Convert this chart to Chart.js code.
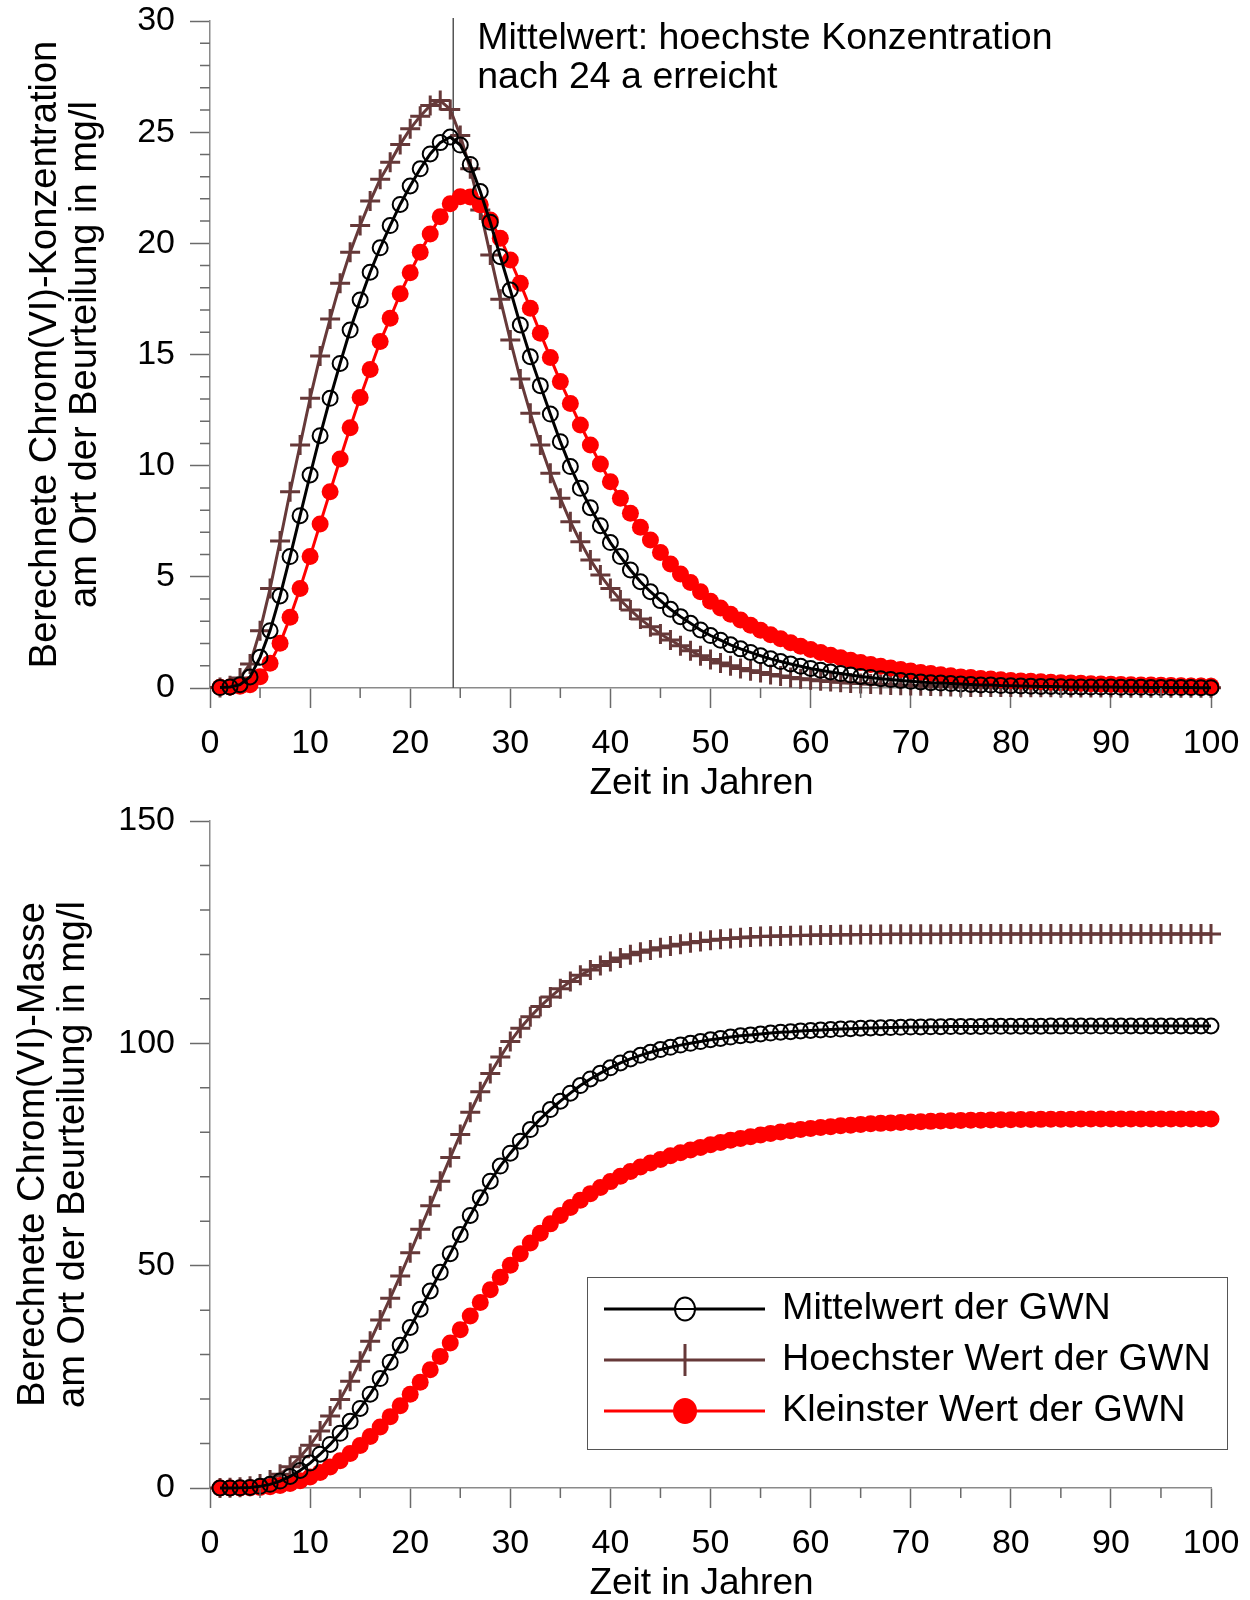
<!DOCTYPE html>
<html lang="de">
<head>
<meta charset="utf-8">
<title>Chrom(VI) Konzentration und Masse</title>
<script src="https://cdn.jsdelivr.net/npm/chart.js@4.4.1/dist/chart.umd.min.js"></script>
<style>
    body { margin: 0; background: #fff; }
    #rahmen { position: relative; width: 1250px; height: 1600px; }
    canvas { position: absolute; left: 0; }
</style>
</head>
<body>
<div id="rahmen">
    <canvas id="konzentration" width="1250" height="800" style="top:0"></canvas>
    <canvas id="masse" width="1250" height="800" style="top:800px"></canvas>
</div>
<script>
    const jahre = [1,2,3,4,5,6,7,8,9,10,11,12,13,14,15,16,17,18,19,20,
        21,22,23,24,25,26,27,28,29,30,31,32,33,34,35,36,37,38,39,40,
        41,42,43,44,45,46,47,48,49,50,51,52,53,54,55,56,57,58,59,60,
        61,62,63,64,65,66,67,68,69,70,71,72,73,74,75,76,77,78,79,80,
        81,82,83,84,85,86,87,88,89,90,91,92,93,94,95,96,97,98,99,100];

    const namen = ['Mittelwert der GWN', 'Hoechster Wert der GWN', 'Kleinster Wert der GWN'];

    // Konzentration in mg/l (oben)
    const konzMittel = [0.02,0.05,0.15,0.5,1.38,2.58,4.14,5.91,7.75,9.58,
        11.35,13.03,14.6,16.1,17.45,18.7,19.8,20.8,21.75,22.58,
        23.35,24.02,24.53,24.78,24.42,23.55,22.33,20.95,19.4,17.9,
        16.33,14.9,13.6,12.32,11.08,9.96,8.98,8.11,7.3,6.54,
        5.91,5.31,4.78,4.33,3.93,3.54,3.21,2.91,2.61,2.36,
        2.15,1.94,1.76,1.6,1.45,1.31,1.19,1.08,0.98,0.88,
        0.8,0.72,0.65,0.58,0.52,0.47,0.42,0.38,0.34,0.3,
        0.27,0.24,0.22,0.2,0.18,0.16,0.14,0.13,0.11,0.1,
        0.09,0.08,0.07,0.07,0.06,0.05,0.05,0.04,0.04,0.04,
        0.03,0.03,0.03,0.02,0.02,0.02,0.02,0.02,0.01,0.01];
    const konzHoechst = [0.02,0.1,0.45,1.08,2.58,4.47,6.61,8.83,10.93,13.03,
        14.93,16.6,18.2,19.6,20.8,21.9,22.88,23.65,24.45,25.15,
        25.72,26.2,26.42,26.02,24.85,23.35,21.5,19.48,17.49,15.65,
        13.9,12.36,10.93,9.66,8.53,7.48,6.58,5.76,5.08,4.48,
        3.96,3.51,3.1,2.76,2.43,2.16,1.9,1.68,1.45,1.28,
        1.13,1.0,0.88,0.78,0.7,0.61,0.54,0.47,0.42,0.37,
        0.33,0.29,0.26,0.23,0.2,0.18,0.16,0.14,0.12,0.11,
        0.1,0.09,0.08,0.07,0.06,0.05,0.05,0.04,0.04,0.04,
        0.03,0.03,0.03,0.03,0.02,0.02,0.02,0.02,0.02,0.02,
        0.01,0.01,0.01,0.01,0.01,0.01,0.01,0.01,0.01,0.01];
    const konzKleinst = [0.03,0.05,0.08,0.15,0.51,1.11,2.01,3.18,4.48,5.91,
        7.38,8.83,10.3,11.71,13.07,14.33,15.58,16.63,17.73,18.68,
        19.6,20.42,21.2,21.78,22.1,22.08,21.73,21.05,20.23,19.25,
        18.2,17.08,15.96,14.86,13.78,12.8,11.83,10.93,10.08,9.28,
        8.53,7.86,7.23,6.66,6.09,5.58,5.13,4.74,4.33,3.9,
        3.6,3.32,3.06,2.82,2.6,2.4,2.21,2.04,1.88,1.73,
        1.6,1.47,1.36,1.25,1.15,1.06,0.98,0.9,0.83,0.76,
        0.7,0.65,0.6,0.55,0.5,0.47,0.43,0.4,0.37,0.34,
        0.32,0.3,0.28,0.26,0.24,0.22,0.21,0.19,0.18,0.17,
        0.16,0.15,0.14,0.13,0.12,0.11,0.1,0.09,0.09,0.08];

    // Masse (unten)
    const masseMittel = [0,0.01,0.04,0.13,0.37,0.82,1.55,2.6,3.95,5.6,
        7.6,9.8,12.3,15.0,17.9,21.1,24.6,28.3,32.1,36.1,
        40.2,44.3,48.5,52.7,57.0,61.3,65.3,69.0,72.4,75.3,
        78.0,80.6,83.0,85.1,87.0,88.8,90.5,92.0,93.3,94.5,
        95.6,96.5,97.3,98.0,98.6,99.1,99.6,100.0,100.4,100.8,
        101.1,101.4,101.7,101.9,102.1,102.3,102.5,102.6,102.8,102.9,
        103.0,103.1,103.2,103.3,103.4,103.45,103.5,103.55,103.6,103.65,
        103.7,103.72,103.74,103.76,103.78,103.8,103.81,103.82,103.83,103.84,
        103.85,103.86,103.86,103.87,103.87,103.88,103.88,103.88,103.89,103.89,
        103.89,103.9,103.9,103.9,103.9,103.9,103.9,103.9,103.9,103.9];
    const masseHoechst = [0,0.03,0.15,0.4,0.9,1.8,3.1,4.8,7.0,9.6,
        12.8,16.2,19.9,24.0,28.5,33.0,37.8,42.7,47.7,52.9,
        58.2,63.5,69.0,74.3,79.5,84.5,89.1,93.2,96.9,100.4,
        103.4,106.0,108.3,110.4,112.3,113.9,115.3,116.5,117.5,118.4,
        119.2,119.9,120.5,121.0,121.5,121.9,122.3,122.6,122.9,123.2,
        123.4,123.6,123.75,123.9,124.0,124.1,124.15,124.2,124.25,124.3,
        124.35,124.38,124.41,124.44,124.46,124.48,124.5,124.51,124.52,124.53,
        124.54,124.55,124.55,124.56,124.56,124.57,124.57,124.57,124.58,124.58,
        124.58,124.58,124.59,124.59,124.59,124.59,124.59,124.59,124.6,124.6,
        124.6,124.6,124.6,124.6,124.6,124.6,124.6,124.6,124.6,124.6];
    const masseKleinst = [0,0.01,0.02,0.05,0.12,0.28,0.56,1.0,1.62,2.45,
        3.47,4.7,6.13,7.76,9.58,11.57,13.74,16.05,18.5,21.1,
        23.8,26.6,29.6,32.6,35.6,38.7,41.7,44.6,47.4,50.1,
        52.7,55.1,57.3,59.4,61.3,63.1,64.7,66.2,67.6,68.9,
        70.1,71.2,72.2,73.1,73.9,74.7,75.4,76.0,76.6,77.2,
        77.7,78.2,78.6,79.0,79.4,79.75,80.05,80.35,80.6,80.85,
        81.05,81.25,81.45,81.6,81.75,81.9,82.0,82.1,82.2,82.3,
        82.38,82.45,82.52,82.58,82.63,82.68,82.72,82.76,82.8,82.83,
        82.86,82.88,82.9,82.92,82.94,82.95,82.96,82.97,82.98,82.99,
        83.0,83.0,83.0,83.0,83.0,83.0,83.0,83.0,83.0,83.0];

    const spitzeJahr = 24.3;
    const hinweis = ['Mittelwert: hoechste Konzentration', 'nach 24 a erreicht'];
    const xTitel = 'Zeit in Jahren';

    const achsenFarbe = '#8a8a8a';
    const strichFarbe = '#6a6a6a';
    const braun = '#663939';
    const familie = "'Liberation Sans', Arial, Helvetica, sans-serif";
    const groesse = 38;
    const tickGroesse = 34;

    const stile = [
        { borderColor: '#000', pointStyle: 'circle', pointRadius: 7.5, pointBorderWidth: 2,
          pointBorderColor: '#000', pointBackgroundColor: 'rgba(0,0,0,0)', order: 0 },
        { borderColor: braun, pointStyle: 'cross', pointRadius: 10, pointBorderWidth: 3,
          pointBorderColor: braun, pointBackgroundColor: braun, order: 2 },
        { borderColor: '#ff0000', pointStyle: 'circle', pointRadius: 8.5, pointBorderWidth: 0,
          pointBorderColor: '#ff0000', pointBackgroundColor: '#ff0000', order: 1 }
    ];

    function datensatz(i, werte) {
        return Object.assign({
            label: namen[i],
            data: werte.map((w, k) => ({ x: jahre[k], y: w })),
            borderWidth: 3,
            tension: 0,
            clip: false
        }, stile[i]);
    }

    // kleine Striche zwischen den beschrifteten + Titel der x-Achse
    const kleineStriche = {
        id: 'kleineStriche',
        afterDraw(chart, args, opts) {
            const { ctx, chartArea, scales } = chart;
            ctx.save();
            ctx.strokeStyle = strichFarbe;
            ctx.lineWidth = 1.5;
            ctx.beginPath();
            for (let v = 5; v < 100; v += 10) {
                const px = scales.x.getPixelForValue(v);
                ctx.moveTo(px, chartArea.bottom);
                ctx.lineTo(px, chartArea.bottom + 10);
            }
            for (let v = opts.klein; v < scales.y.max; v += opts.klein) {
                if (v % opts.gross === 0) continue;
                const py = scales.y.getPixelForValue(v);
                ctx.moveTo(chartArea.left - 10, py);
                ctx.lineTo(chartArea.left, py);
            }
            ctx.stroke();

            ctx.fillStyle = '#000';
            ctx.font = '37px ' + familie;
            ctx.textAlign = 'center';
            ctx.textBaseline = 'middle';
            ctx.fillText(xTitel, (chartArea.left + chartArea.right) / 2 - 9, chartArea.bottom + 96);
            ctx.restore();
        }
    };

    const spitzenLinie = {
        id: 'spitzenLinie',
        beforeDatasetsDraw(chart) {
            const { ctx, chartArea, scales } = chart;
            const px = scales.x.getPixelForValue(spitzeJahr);
            ctx.save();
            ctx.strokeStyle = '#555';
            ctx.lineWidth = 1.5;
            ctx.beginPath();
            ctx.moveTo(px, chartArea.top - 3);
            ctx.lineTo(px, chartArea.bottom);
            ctx.stroke();
            ctx.fillStyle = '#000';
            ctx.font = '37.5px ' + familie;
            ctx.textAlign = 'left';
            ctx.textBaseline = 'middle';
            ctx.fillText(hinweis[0], px + 24, 39);
            ctx.fillText(hinweis[1], px + 24, 78);
            ctx.restore();
        }
    };

    const legende = {
        id: 'legende',
        afterDraw(chart) {
            const ctx = chart.ctx;
            const links = 587, oben = 477, breite = 640, hoehe = 172;
            ctx.save();
            ctx.fillStyle = '#fff';
            ctx.fillRect(links, oben, breite, hoehe);
            ctx.strokeStyle = '#555';
            ctx.lineWidth = 1;
            ctx.strokeRect(links + 0.5, oben + 0.5, breite, hoehe);
            const reihen = [0, 1, 2];
            reihen.forEach((i, n) => {
                const y = oben + 32 + n * 51;
                const s = stile[i];
                ctx.strokeStyle = s.borderColor;
                ctx.lineWidth = 3;
                ctx.beginPath();
                ctx.moveTo(604, y);
                ctx.lineTo(765, y);
                ctx.stroke();
                const mx = 685;
                if (i === 0) {
                    ctx.fillStyle = '#fff';
                    ctx.lineWidth = 2;
                    ctx.beginPath();
                    ctx.ellipse(mx, y, 10, 11.5, 0, 0, Math.PI * 2);
                    ctx.fill();
                    ctx.stroke();
                    ctx.beginPath();
                    ctx.moveTo(mx - 10, y);
                    ctx.lineTo(mx + 10, y);
                    ctx.stroke();
                } else if (i === 1) {
                    ctx.lineWidth = 3;
                    ctx.beginPath();
                    ctx.moveTo(mx, y - 16);
                    ctx.lineTo(mx, y + 16);
                    ctx.stroke();
                } else {
                    ctx.fillStyle = s.pointBackgroundColor;
                    ctx.beginPath();
                    ctx.ellipse(mx, y, 12, 13, 0, 0, Math.PI * 2);
                    ctx.fill();
                }
                ctx.fillStyle = '#000';
                ctx.font = '37.7px ' + familie;
                ctx.textAlign = 'left';
                ctx.textBaseline = 'middle';
                ctx.fillText(namen[i], 782, y);
            });
            ctx.restore();
        }
    };

    function ohneRand(s) {
        s.paddingTop = 0;
        s.paddingBottom = 0;
        s.paddingLeft = 0;
        s.paddingRight = 0;
    }

    function optionen(yMax, yGross, yKlein, yTitel, titelAbstand) {
        const tickSchrift = { family: familie, size: tickGroesse, lineHeight: 1 };
        return {
            responsive: false,
            animation: false,
            devicePixelRatio: 1,
            layout: { padding: { top: 21, right: 39, left: 0, bottom: 0 } },
            plugins: {
                legend: { display: false },
                tooltip: { enabled: false },
                kleineStriche: { klein: yKlein, gross: yGross }
            },
            scales: {
                x: {
                    type: 'linear', min: 0, max: 100,
                    afterFit: s => { s.height = 112; ohneRand(s); },
                    ticks: { stepSize: 10, font: tickSchrift, color: '#000', padding: 19, maxRotation: 0 },
                    grid: { drawOnChartArea: false, tickLength: 20, tickColor: strichFarbe, tickWidth: 1.5 },
                    border: { color: achsenFarbe, width: 1.5 },
                    title: { display: false }
                },
                y: {
                    min: 0, max: yMax,
                    afterFit: s => { s.width = 210; ohneRand(s); },
                    ticks: { stepSize: yGross, font: tickSchrift, color: '#000', padding: 15 },
                    grid: { drawOnChartArea: false, tickLength: 20, tickColor: strichFarbe, tickWidth: 1.5 },
                    border: { color: achsenFarbe, width: 1.5 },
                    title: { display: true, text: yTitel, color: '#000', padding: { top: titelAbstand, bottom: 0 },
                             font: { family: familie, size: groesse, lineHeight: '40px' } }
                }
            }
        };
    }

    new Chart(document.getElementById('konzentration'), {
        type: 'line',
        data: { datasets: [datensatz(0, konzMittel), datensatz(1, konzHoechst), datensatz(2, konzKleinst)] },
        options: optionen(30, 5, 1,
            ['Berechnete Chrom(VI)-Konzentration', 'am Ort der Beurteilung in mg/l'], 26),
        plugins: [kleineStriche, spitzenLinie]
    });

    new Chart(document.getElementById('masse'), {
        type: 'line',
        data: { datasets: [datensatz(0, masseMittel), datensatz(1, masseHoechst), datensatz(2, masseKleinst)] },
        options: optionen(150, 50, 10,
            ['Berechnete Chrom(VI)-Masse', 'am Ort der Beurteilung in mg/l'], 14),
        plugins: [kleineStriche, legende]
    });
</script>
</body>
</html>
